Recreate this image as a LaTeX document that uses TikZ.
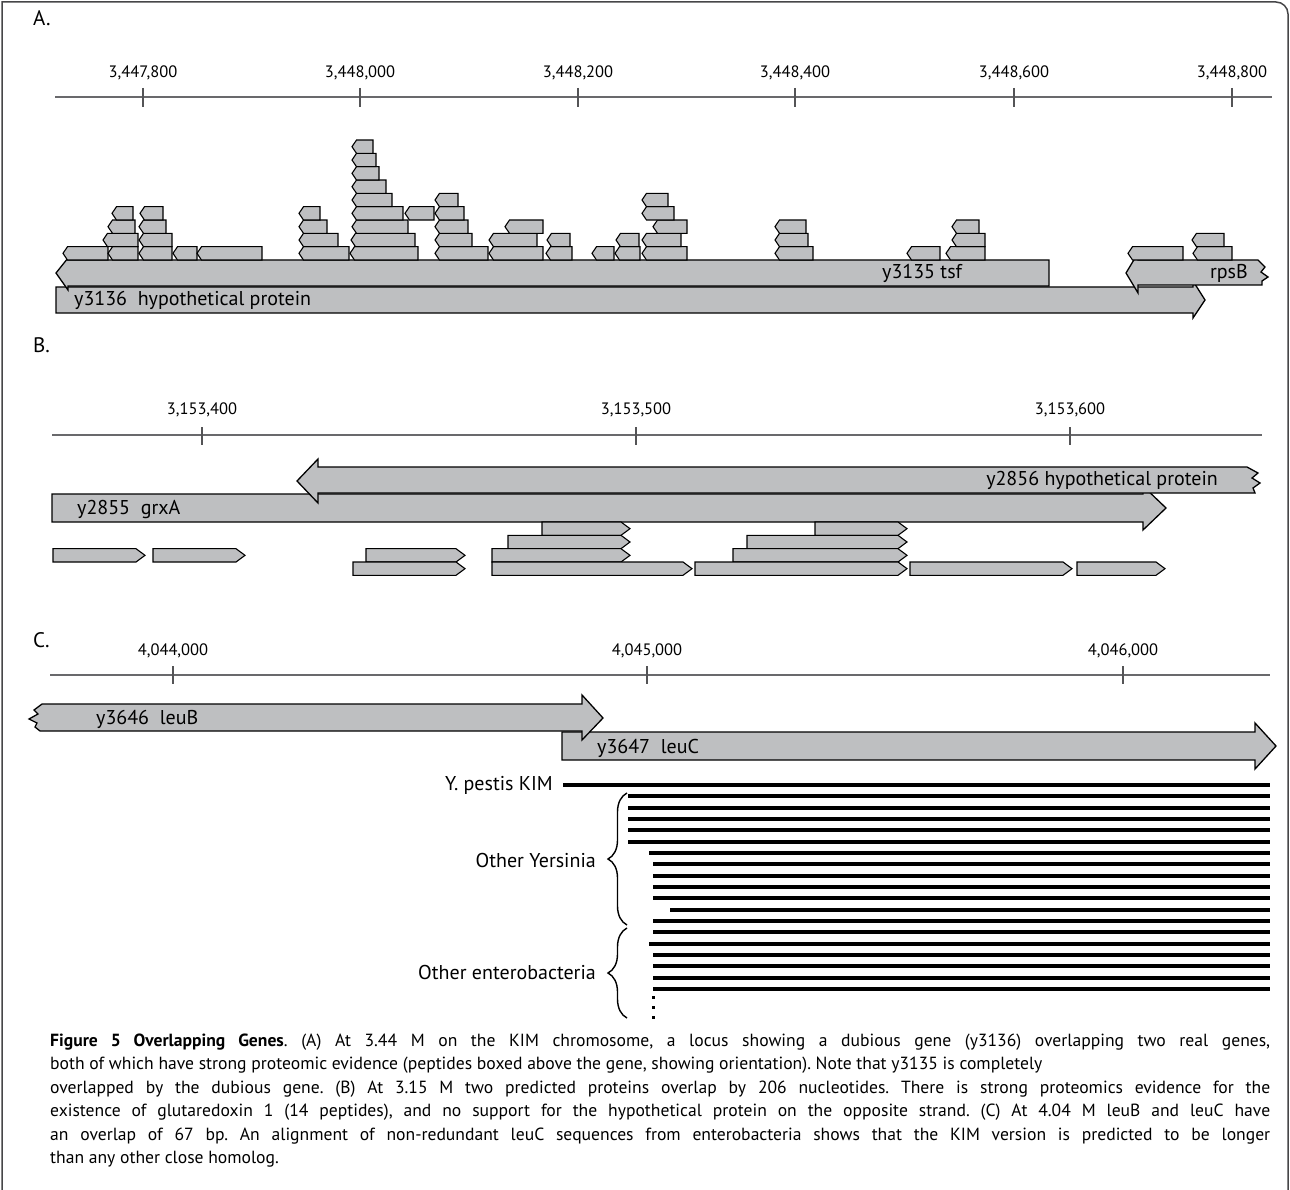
\documentclass[tikz,border=0pt]{standalone}
\usepackage{fontspec}
\setmainfont{PT Sans}
\usetikzlibrary{decorations.pathreplacing}
\definecolor{gfill}{RGB}{190,191,193}
\definecolor{axisgray}{RGB}{105,105,108}
\definecolor{framegray}{RGB}{70,70,72}
\newcommand{\pepL}[3]{%
  \pgfmathsetmacro{\pepbot}{260-13.33*(#3-1)}%
  \pgfmathsetmacro{\peptop}{\pepbot-13.33}%
  \pgfmathsetmacro{\pepmid}{\pepbot-6.665}%
  \draw[pep] ({#1+4.5},\peptop) -- (#1,\pepmid) -- ({#1+4.5},\pepbot) -- (#2,\pepbot) -- (#2,\peptop) -- cycle;}
\newcommand{\pepR}[3]{%
  \pgfmathsetmacro{\pepbot}{#3+13.33}%
  \pgfmathsetmacro{\pepmid}{#3+6.665}%
  \draw[pep] (#1,#3) -- ({#2-9},#3) -- (#2,\pepmid) -- ({#2-9},\pepbot) -- (#1,\pepbot) -- cycle;}
\frenchspacing
\begin{document}
\begin{tikzpicture}[x=1pt,y=-1pt,
  gene/.style={draw=black, fill=gfill, line width=1.3pt, line join=miter},
  pep/.style={draw=black, fill=gfill, line width=1.1pt, line join=miter},
  axisline/.style={draw=axisgray, line width=1.2pt},
  tickmark/.style={draw=axisgray!80!black, line width=1.4pt},
  ticklab/.style={font=\fontsize{16.5}{18}\selectfont, inner sep=0pt},
  genelab/.style={font=\fontsize{20}{22}\selectfont, inner sep=0pt},
  panellab/.style={font=\fontsize{21}{24}\selectfont, inner sep=0pt, anchor=west},
  grouplab/.style={font=\fontsize{20}{22}\selectfont, inner sep=0pt, anchor=east},
  aln/.style={draw=black, line width=4pt, line cap=butt},
  bracestyle/.style={draw=black, line width=1.4pt, decorate, decoration={brace, amplitude=19pt}},
  caplab/.style={font=\fontsize{17.6}{20}\selectfont\frenchspacing, inner sep=0pt, anchor=base west}
]
\useasboundingbox (0,0) rectangle (1290,1190);
% frame
\draw[framegray, line width=1.5pt] (2,1192) -- (2,2) -- (1276,2) arc(-90:0:12) -- (1288,1192);

% ================= Panel A =================
\node[panellab] (labA) at (33,18) {A.};
\draw[axisline] (55,97) -- (1272,97);
\foreach \xx/\lab [count=\i] in {143/{3,447,800},360/{3,448,000},578/{3,448,200},795/{3,448,400},1014/{3,448,600},1232/{3,448,800}}{
  \draw[tickmark] (\xx,88) -- (\xx,107);
  \node[ticklab] (ta\i) at (\xx,73) {\lab};
}
% y3136 (rightward, dubious)
\draw[gene] (56,287) -- (1193,287) -- (1193,281) -- (1205,300) -- (1193,318) -- (1193,313) -- (56,313) -- cycle;
% y3135 tsf (leftward)
\draw[gene] (1049,260) -- (68,260) -- (68,258) -- (56,273) -- (68,290) -- (68,286) -- (1049,286) -- cycle;
% rpsB (leftward, truncated right end)
\draw[gene] (1258,260) -- (1138,260) -- (1138,253) -- (1126,273) -- (1138,293) -- (1138,285) -- (1262,285) -- (1262,281) -- (1268,277) -- (1261,272) -- (1265,267) -- cycle;
\node[genelab, anchor=west] (g3136) at (74,300) {y3136\ \ hypothetical protein};
\node[genelab, anchor=west] (g3135) at (882,273) {y3135 tsf};
\node[genelab, anchor=east] (grpsB) at (1248,273) {rpsB};
% peptides panel A (row 1 = bottom)
\foreach \a/\b/\r in {63/108/1,108/138/1,139/172/1,173/197/1,197/262/1,299/349/1,350/418/1,435/488/1,489/543/1,546/572/1,592/614/1,615/640/1,642/687/1,775/813/1,907/940/1,946/985/1,1128/1183/1,1193/1232/1,
 103/138/2,139/172/2,299/338/2,351/415/2,435/472/2,489/537/2,547/570/2,616/639/2,642/681/2,775/808/2,952/985/2,1192/1224/2,
 108/135/3,139/166/3,299/327/3,352/408/3,435/468/3,505/543/3,653/687/3,775/806/3,952/979/3,
 112/133/4,140/163/4,299/320/4,352/403/4,405/434/4,435/464/4,642/674/4,
 352/392/5,435/458/5,642/668/5,
 352/386/6,352/379/7,352/376/8,352/373/9}{
  \pepL{\a}{\b}{\r}
}

% ================= Panel B =================
\node[panellab] (labB) at (33,345) {B.};
\draw[axisline] (52,435) -- (1262,435);
\foreach \xx/\lab [count=\i] in {202/{3,153,400},636/{3,153,500},1070/{3,153,600}}{
  \draw[tickmark] (\xx,427) -- (\xx,445);
  \node[ticklab] (tb\i) at (\xx,410) {\lab};
}
% y2855 grxA (rightward)
\draw[gene] (52,494) -- (1143,494) -- (1143,486) -- (1166,508) -- (1143,530) -- (1143,522) -- (52,522) -- cycle;
% y2856 (leftward, truncated right end)
\draw[gene] (1247,467) -- (318,467) -- (318,459) -- (297,481) -- (318,503) -- (318,493) -- (1255,493) -- (1253,488) -- (1260,483) -- (1252,478) -- (1258,473) -- cycle;
\node[genelab, anchor=west] (g2855) at (77,509) {y2855\ \ grxA};
\node[genelab, anchor=east] (g2856) at (1218,480) {y2856 hypothetical protein};
% peptides panel B
\foreach \a/\b/\t in {542/630/522,815/907/522,
 508/630/535.33,747/907/535.33,
 53/145/548.67,153/245/548.67,366/465/548.67,492/630/548.67,733/907/548.67,
 353/465/562,492/692/562,695/907/562,910/1072/562,1077/1165/562}{
  \pepR{\a}{\b}{\t}
}

% ================= Panel C =================
\node[panellab] (labC) at (33,640) {C.};
\draw[axisline] (50,675) -- (1270,675);
\foreach \xx/\lab [count=\i] in {173/{4,044,000},647/{4,045,000},1123/{4,046,000}}{
  \draw[tickmark] (\xx,666) -- (\xx,684);
  \node[ticklab] (tc\i) at (\xx,651) {\lab};
}
% y3647 leuC
\draw[gene] (562,732) -- (1255,732) -- (1255,723) -- (1276,746) -- (1255,769) -- (1255,760) -- (562,760) -- cycle;
% y3646 leuB (truncated left end)
\draw[gene] (42,704) -- (582,704) -- (582,695) -- (603,718) -- (582,740) -- (582,731) -- (40,731) -- (35,727) -- (37,723) -- (29,719) -- (38,714) -- (34,710) -- cycle;
\node[genelab, anchor=west] (g3646) at (96,719) {y3646\ \ leuB};
\node[genelab, anchor=west] (g3647) at (597,748) {y3647\ \ leuC};
% alignment
\node[grouplab] (kim) at (553,785) {Y. pestis KIM};
\draw[aln] (563,785) -- (1270,785);
\foreach \s/\yy in {628/796.33,628/807.67,628/819,628/830.33,628/841.67,649/853,653/864.33,653/875.67,653/887,653/898.33,670/909.67,653/921,653/932.33,649/943.67,653/955,653/966.33,653/977.67,653/989}{
  \draw[aln] (\s,\yy) -- (1270,\yy);
}
\foreach \yy in {996,1006,1016}{ \fill (651.5,\yy) rectangle ++(3.2,3.2); }
\draw[bracestyle] (627,925) -- (627,793);
\draw[bracestyle] (627,1018) -- (627,928);
\node[grouplab] (yers) at (596,860) {Other Yersinia};
\node[grouplab] (entero) at (596,972) {Other enterobacteria};

% ================= Caption =================
\node[caplab] (cap1) at (50,1046) {\makebox[1220pt][s]{\textbf{Figure 5 Overlapping Genes}. (A) At 3.44 M on the KIM chromosome, a locus showing a dubious gene (y3136) overlapping two real genes,}};
\node[caplab] (cap2) at (50,1069.5) {both of which have strong proteomic evidence (peptides boxed above the gene, showing orientation). Note that y3135 is completely};
\node[caplab] (cap3) at (50,1093) {\makebox[1220pt][s]{overlapped by the dubious gene. (B) At 3.15 M two predicted proteins overlap by 206 nucleotides. There is strong proteomics evidence for the}};
\node[caplab] (cap4) at (50,1116.5) {\makebox[1220pt][s]{existence of glutaredoxin 1 (14 peptides), and no support for the hypothetical protein on the opposite strand. (C) At 4.04 M leuB and leuC have}};
\node[caplab] (cap5) at (50,1140) {\makebox[1220pt][s]{an overlap of 67 bp. An alignment of non-redundant leuC sequences from enterobacteria shows that the KIM version is predicted to be longer}};
\node[caplab] (cap6) at (50,1163.5) {than any other close homolog.};
\end{tikzpicture}
\end{document}
